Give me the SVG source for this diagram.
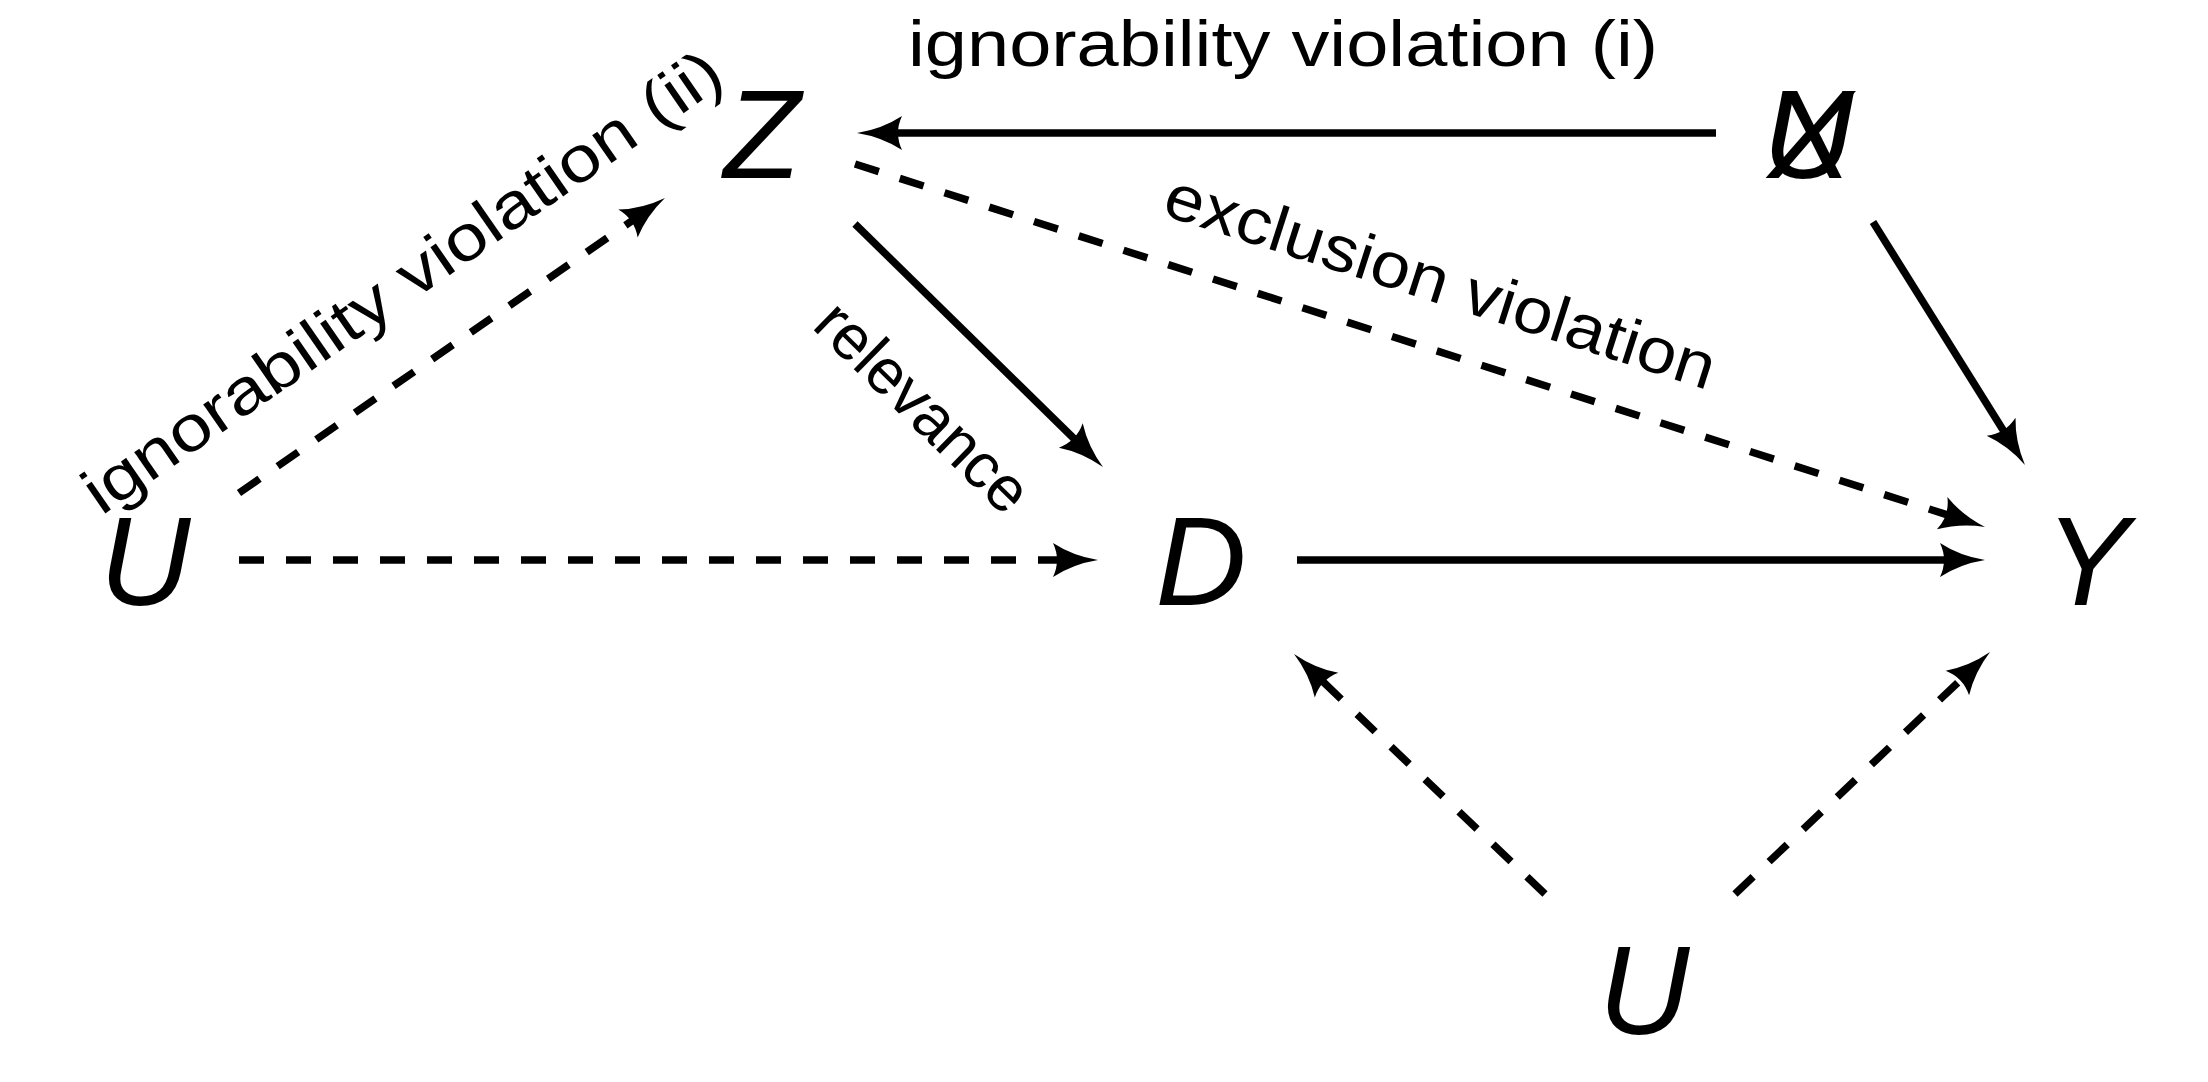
<svg xmlns="http://www.w3.org/2000/svg" width="2208" height="1082" viewBox="0 0 2208 1082">
<style>
.node{font-family:"Liberation Sans","DejaVu Sans",sans-serif;font-style:italic;font-size:126px;fill:#000;text-anchor:middle}
.lbl{font-family:"Liberation Sans","DejaVu Sans",sans-serif;font-size:64px;fill:#000;text-anchor:middle}
.e{stroke:#000;stroke-width:7.5;fill:none;marker-end:url(#arr)}
.d{stroke-dasharray:25 22}
</style>
<defs>
<marker id="arr" markerUnits="userSpaceOnUse" viewBox="-25 -20 55 40" refX="0" refY="0" markerWidth="55" markerHeight="40" orient="auto" overflow="visible">
<path d="M25,0 Q0,-4 -20,-17 Q-12,0 -20,17 Q0,4 25,0 Z" fill="#000"/>
</marker>
</defs>
<rect width="2208" height="1082" fill="#fff"/>
<g id="connectors">
<line class="e" x1="1716" y1="133" x2="882" y2="133"/>
<line class="e d" x1="855" y1="164" x2="1961.2" y2="519.3"/>
<line class="e" x1="855" y1="224" x2="1085.1" y2="449.5"/>
<line class="e d" x1="239" y1="493" x2="644.4" y2="212.2"/>
<line class="e d" x1="239" y1="560" x2="1073" y2="560"/>
<line class="e" x1="1297" y1="560" x2="1960" y2="560"/>
<line class="e" x1="1873" y1="222" x2="2011.7" y2="443.8"/>
<line class="e d" x1="1545" y1="894" x2="1312.1" y2="671.3"/>
<line class="e d" x1="1735" y1="894" x2="1971.9" y2="669.2"/>
</g>
<g id="labels">
<text class="lbl" x="1283" y="66" textLength="750" lengthAdjust="spacingAndGlyphs">ignorability violation (i)</text>
<text class="lbl" transform="translate(403,283) rotate(-34.7)" y="20" textLength="762" lengthAdjust="spacingAndGlyphs">ignorability violation (ii)</text>
<text class="lbl" transform="translate(1440,283) rotate(17.8)" y="20" textLength="575" lengthAdjust="spacingAndGlyphs">exclusion violation</text>
<text class="lbl" transform="translate(922,408) rotate(44.4)" y="20" textLength="272" lengthAdjust="spacingAndGlyphs">relevance</text>
</g>
<g id="node-Z"><text class="node" x="762" y="178">Z</text></g>
<g id="node-UX"><text class="node" x="1808" y="178">U</text><text class="node" x="1810" y="178">X</text></g>
<g id="node-U1"><text class="node" x="145" y="605">U</text></g>
<g id="node-D"><text class="node" x="1201" y="605">D</text></g>
<g id="node-Y"><text class="node" x="2087" y="605">Y</text></g>
<g id="node-U2"><text class="node" x="1644" y="1034">U</text></g>
</svg>
